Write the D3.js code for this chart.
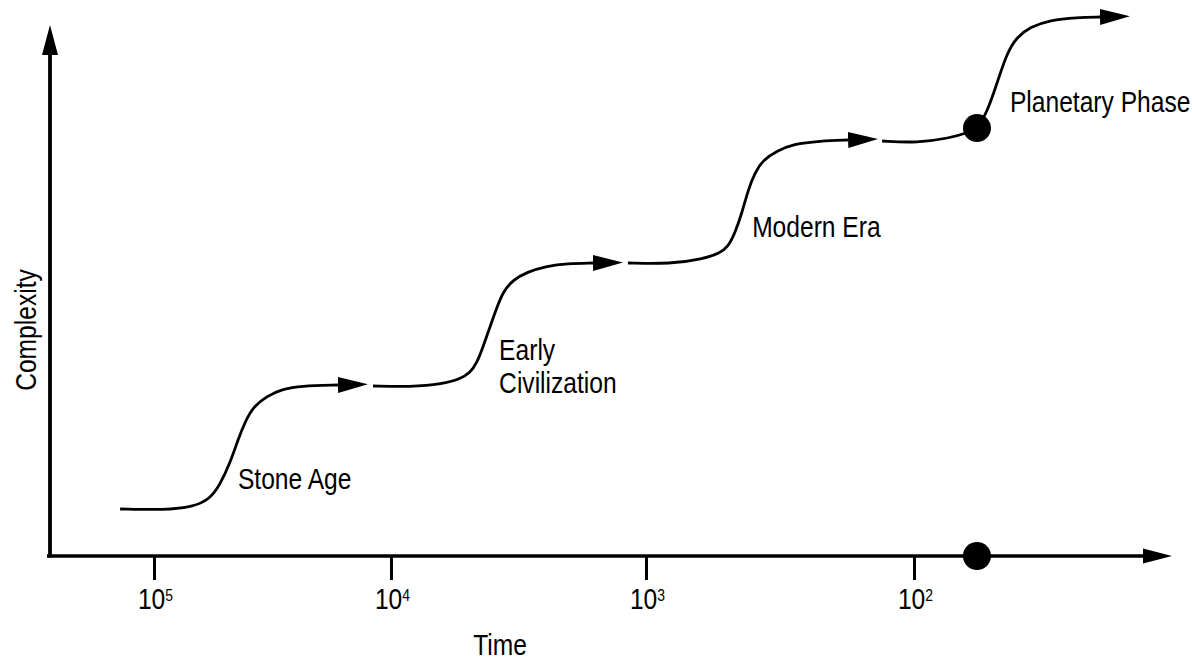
<!DOCTYPE html>
<html>
<head>
<meta charset="utf-8">
<script src="https://cdn.jsdelivr.net/npm/d3@7"></script>
<style>
  html, body { margin: 0; padding: 0; background: #fff; }
  svg { display: block; }
  text { font-family: "Liberation Sans Narrow", "Liberation Sans", Arial, sans-serif; fill: #000; }
</style>
</head>
<body>
<svg id="chart" width="1192" height="661"></svg>
<script>
// ---- data (x = log10 of years before present, y = complexity units) ----
const tickExponents = [5, 4, 3, 2];
const tickLabels = ["5", "4", "3", "2"];

const stoneAgeX = [5.143, 4.954, 4.835, 4.764, 4.722, 4.679, 4.646, 4.616, 4.582, 4.523, 4.456, 4.384, 4.224];
const stoneAgeY = [8.87, 8.68, 9.25, 10.75, 13.40, 17.55, 21.89, 25.28, 28.11, 30.19, 31.51, 32.08, 32.26];

const earlyCivX = [4.076, 3.925, 3.796, 3.729, 3.690, 3.663, 3.639, 3.612, 3.584, 3.561, 3.522, 3.467, 3.388, 3.310, 3.208];
const earlyCivY = [32.08, 31.89, 32.45, 33.40, 34.53, 36.42, 39.43, 43.21, 46.98, 49.81, 52.08, 53.58, 54.72, 55.19, 55.28];

const modernX = [3.071, 2.910, 2.787, 2.724, 2.694, 2.668, 2.642, 2.619, 2.593, 2.563, 2.511, 2.451, 2.351, 2.246];
const modernY = [55.28, 55.09, 56.04, 57.17, 58.30, 60.94, 64.72, 69.06, 72.45, 74.72, 76.42, 77.74, 78.30, 78.49];

const planetaryX = [2.119, 1.989, 1.866, 1.802, 1.765, 1.728, 1.690, 1.653, 1.616, 1.567, 1.493, 1.392, 1.306];
const planetaryY = [78.30, 77.92, 78.87, 79.81, 80.75, 83.58, 89.25, 94.91, 97.92, 99.81, 101.13, 101.60, 101.70];

const dotX = [1.765, 1.765];
const dotY = [80.75, 0];

const labelLines = ["Stone Age", "Early", "Civilization", "Modern Era", "Planetary Phase"];
const labelX = [4.646, 3.576, 3.576, 2.604, 1.642];
const labelY = [12.64, 36.98, 30.75, 60.19, 83.77];

const xTitle = "Time";
const yTitle = "Complexity";

// ---- scales ----
const x = d3.scaleLinear().domain([5, 4, 3, 2]).range([154, 391, 646, 914]);
const y = d3.scaleLinear().domain([0, 100]).range([556, 26]);

const narrow = 0.82; // emulate the condensed face of the original

const svg = d3.select("#chart");

const defs = svg.append("defs");
defs.append("marker")
  .attr("id", "arrow")
  .attr("markerUnits", "userSpaceOnUse")
  .attr("markerWidth", 32).attr("markerHeight", 18)
  .attr("refX", 0).attr("refY", 8)
  .attr("orient", "auto")
  .append("path").attr("d", "M0,0 L30,8 L0,16 Z").attr("fill", "#000");
defs.append("marker")
  .attr("id", "axisArrow")
  .attr("markerUnits", "userSpaceOnUse")
  .attr("markerWidth", 32).attr("markerHeight", 18)
  .attr("refX", 0).attr("refY", 8)
  .attr("orient", "auto")
  .append("path").attr("d", "M0,0.5 L29,8 L0,15.5 Z").attr("fill", "#000");

// ---- axes ----
const xAxis = d3.axisBottom(x)
  .tickValues(tickExponents)
  .tickSize(24)
  .tickSizeOuter(0)
  .tickFormat(() => "");
const gx = svg.append("g").attr("transform", `translate(0,${y(0)})`).call(xAxis);
gx.select(".domain").remove();
gx.selectAll(".tick line").attr("stroke", "#000").attr("stroke-width", 3);
gx.selectAll(".tick text").remove();
gx.selectAll(".tick").each(function(d, i) {
  const t = d3.select(this).append("text")
    .attr("transform", `translate(1,53) scale(${narrow},1)`)
    .attr("text-anchor", "middle")
    .style("font-size", "30px");
  t.append("tspan").text("10");
  t.append("tspan").text(tickLabels[i]).style("font-size", "17px").attr("dy", -8);
});

svg.append("line")
  .attr("x1", 47).attr("x2", 1143)
  .attr("y1", y(0)).attr("y2", y(0))
  .attr("stroke", "#000").attr("stroke-width", 3.6)
  .attr("marker-end", "url(#axisArrow)");

svg.append("line")
  .attr("x1", 50).attr("x2", 50)
  .attr("y1", y(0) + 1.5).attr("y2", 55)
  .attr("stroke", "#000").attr("stroke-width", 3.8)
  .attr("marker-end", "url(#arrow)");

// ---- curves ----
const line = d3.line()
  .x(d => x(d[0]))
  .y(d => y(d[1]))
  .curve(d3.curveBasis);

const segments = [
  [stoneAgeX, stoneAgeY],
  [earlyCivX, earlyCivY],
  [modernX, modernY],
  [planetaryX, planetaryY]
];
segments.forEach(([xs, ys]) => {
  svg.append("path")
    .datum(xs.map((v, i) => [v, ys[i]]))
    .attr("d", line)
    .attr("fill", "none")
    .attr("stroke", "#000")
    .attr("stroke-width", 2.8)
    .attr("marker-end", "url(#arrow)");
});

// ---- dots ----
svg.selectAll("circle.dot")
  .data(dotX.map((v, i) => [v, dotY[i]]))
  .join("circle")
  .attr("class", "dot")
  .attr("cx", d => x(d[0]))
  .attr("cy", d => y(d[1]))
  .attr("r", 14)
  .attr("fill", "#000");

// ---- labels ----
svg.selectAll("text.lab")
  .data(labelLines)
  .join("text")
  .attr("class", "lab")
  .attr("transform", (d, i) => `translate(${x(labelX[i])},${y(labelY[i])}) scale(${narrow},1)`)
  .style("font-size", "30px")
  .text(d => d);

svg.append("text")
  .attr("transform", `translate(500,655) scale(${narrow},1)`)
  .attr("text-anchor", "middle")
  .style("font-size", "30px")
  .text(xTitle);

svg.append("text")
  .attr("transform", `translate(36,330) rotate(-90) scale(${narrow},1)`)
  .attr("text-anchor", "middle")
  .style("font-size", "30px")
  .text(yTitle);
</script>
</body>
</html>
